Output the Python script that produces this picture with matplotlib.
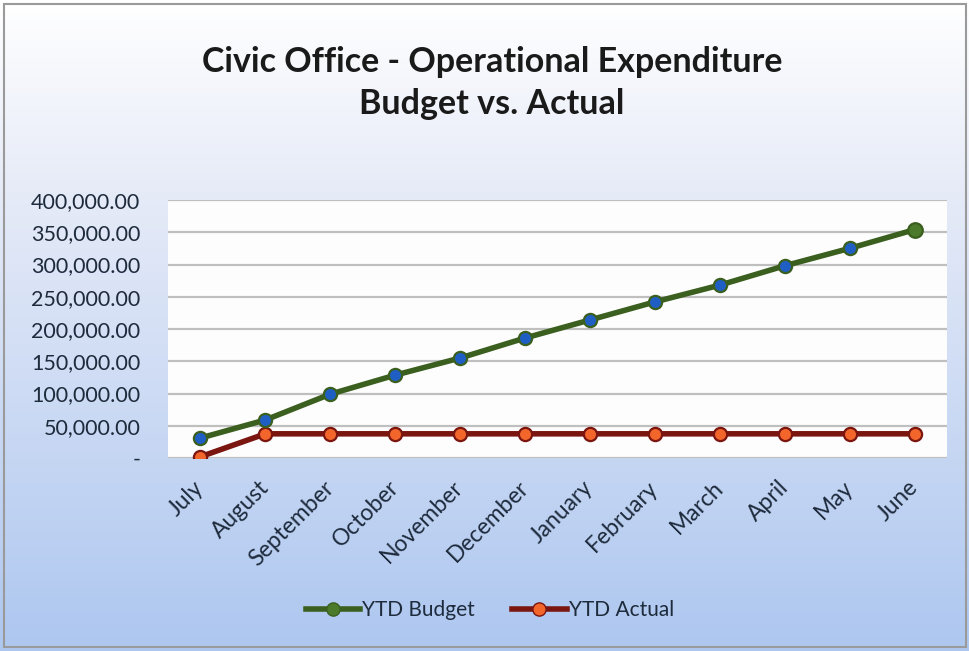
import matplotlib
matplotlib.use("Agg")
import matplotlib.pyplot as plt
import numpy as np
from matplotlib.lines import Line2D
from matplotlib.ticker import FuncFormatter, MultipleLocator

months = ["July", "August", "September", "October", "November", "December",
          "January", "February", "March", "April", "May", "June"]
ytd_budget = [31000, 59000, 99000, 128500, 155000, 186000,
              214000, 242000, 268000, 298000, 325000, 354000]
ytd_actual = [2000, 37500, 37500, 37500, 37500, 37500,
              37500, 37500, 37500, 37500, 37500, 37500]

W, H = 970, 651
fig = plt.figure(figsize=(W / 100, H / 100), dpi=100)

# background gradient
bg = fig.add_axes([0, 0, 1, 1], zorder=-10)
top = np.array([1.0, 1.0, 1.0])
mid = np.array([0.90, 0.92, 0.97])
bot = np.array([0.68, 0.78, 0.94])
t = np.linspace(0, 1, 300)[:, None]
grad = np.where(t < 0.3, top + (mid - top) * (t / 0.3),
                mid + (bot - mid) * ((t - 0.3) / 0.7))
img = np.repeat(grad[:, None, :], 2, axis=1)
bg.imshow(img, aspect="auto", extent=[0, 1, 0, 1])
bg.set_xlim(0, 1); bg.set_ylim(0, 1)
bg.axis("off")
bg.add_patch(plt.Rectangle((0.004, 0.006), 0.992, 0.988, fill=False,
                           edgecolor="#9a9a9a", lw=1.5, transform=bg.transAxes))

left, right, topy, boty = 168, 947, 200, 458
ax = fig.add_axes([left / W, 1 - boty / H, (right - left) / W, (boty - topy) / H])
ax.set_facecolor("#fdfdfe")
x = np.arange(len(months))

green_line = "#3b5f1f"
blue_face = "#1f5fc4"
red_line = "#7a1510"
orange_face = "#f2662c"

ax.plot(x, ytd_actual, color=red_line, lw=4.0, marker="o", ms=9.5,
        mfc=orange_face, mec=red_line, mew=1.6, zorder=3, solid_capstyle="round")
ax.plot(x, ytd_budget, color=green_line, lw=4.0, marker="o", ms=9.5,
        mfc=blue_face, mec=green_line, mew=1.6, zorder=4, solid_capstyle="round")
ax.plot(x[-1:], ytd_budget[-1:], ls="none", marker="o", ms=10.5,
        mfc="#4b7a2a", mec=green_line, mew=1.6, zorder=5)

ax.set_xlim(-0.5, len(months) - 0.5)
ax.set_ylim(0, 400000)
ax.yaxis.set_major_locator(MultipleLocator(50000))
ax.yaxis.set_major_formatter(FuncFormatter(lambda v, p: "-" if v == 0 else f"{v:,.2f}"))
ax.grid(axis="y", color="#bfbfbf", lw=1.6)
ax.set_axisbelow(True)
for s in ax.spines.values():
    s.set_visible(False)
ax.tick_params(length=0)
ax.tick_params(axis="y", pad=20, labelsize=15.5, labelcolor="#1e2b3c")
ax.set_xticks(x)
ax.set_xticklabels(months, rotation=45, ha="right", va="center",
                   rotation_mode="anchor", fontsize=16.5, color="#1e2b3c")
ax.tick_params(axis="x", pad=19)
for lab in ax.get_yticklabels() + ax.get_xticklabels():
    lab.set_family(["Lato", "DejaVu Sans"])

fig.text(0.507, 1 - 62 / H, "Civic Office - Operational Expenditure", ha="center", va="center",
         fontsize=24.5, fontweight="bold", color="#1a1a1a", family=["Lato", "DejaVu Sans"])
fig.text(0.507, 1 - 104 / H, "Budget vs. Actual", ha="center", va="center",
         fontsize=24.5, fontweight="bold", color="#1a1a1a", family=["Lato", "DejaVu Sans"])

handles = [
    Line2D([], [], color=green_line, lw=4.0, marker="o", ms=9.5, mfc="#4b7a2a", mec=green_line),
    Line2D([], [], color=red_line, lw=4.0, marker="o", ms=9.5, mfc=orange_face, mec=red_line),
]
leg = fig.legend(handles, ["YTD Budget", "YTD Actual"], loc="center",
                 bbox_to_anchor=(0.505, 1 - 610 / H), ncol=2, frameon=False,
                 handlelength=2.6, handletextpad=0.1, columnspacing=1.8,
                 prop={"family": ["Lato", "DejaVu Sans"], "size": 15})
for tx in leg.get_texts():
    tx.set_color("#1e2b3c")

fig.savefig("out.png", dpi=100)
